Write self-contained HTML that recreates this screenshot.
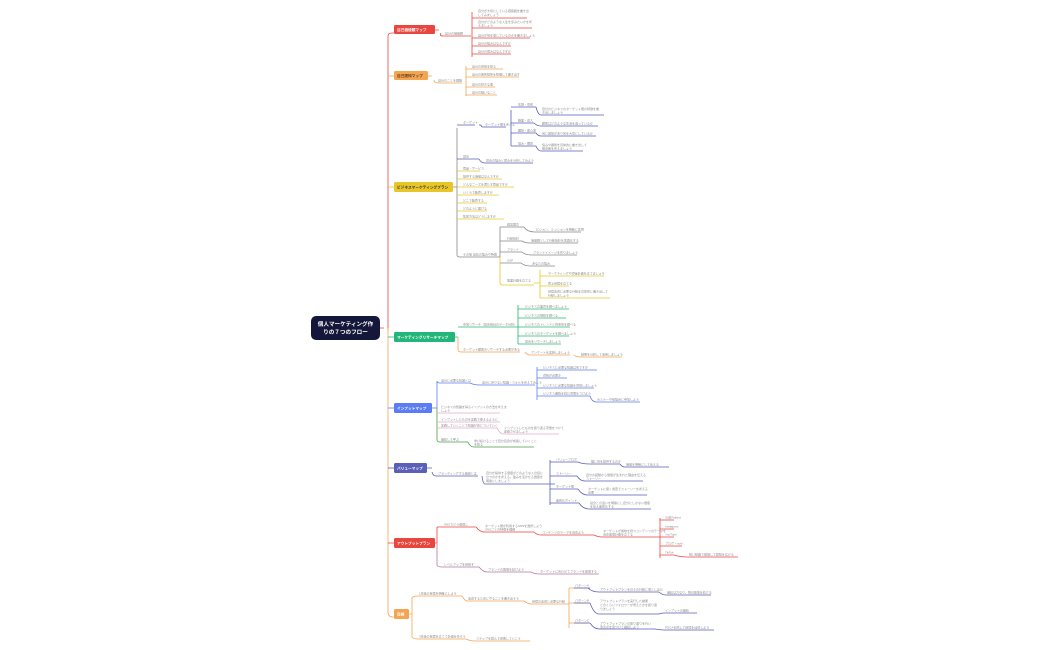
<!DOCTYPE html>
<html><head><meta charset="utf-8"><style>
html,body{margin:0;padding:0;background:#fff;width:1050px;height:650px;overflow:hidden}
svg{display:block}
text{font-family:"Liberation Sans","Noto Sans CJK JP",sans-serif;font-size:3px;fill:#8a8a8a}
.b{font-size:3.7px;font-weight:bold;fill:#fff}
</style></head><body>
<svg width="1050" height="650" viewBox="0 0 1050 650" fill="none" stroke-width="0.8">
<path d="M380 328 H384 M388 330 V36 Q388 33 392 33 H394" stroke="#e8463f"/>
<path d="M388 328 V612 Q388 617 393 617 H394" stroke="#f3a552"/>
<path d="M388 76 H394" stroke="#f3a552"/>
<path d="M388 187 H394" stroke="#e9c628"/>
<path d="M388 337 H394" stroke="#22b67a"/>
<path d="M388 408 H394" stroke="#5b7cf2"/>
<path d="M388 468 H394" stroke="#5a5fb8"/>
<path d="M388 543 H394" stroke="#e8463f"/>

<rect x="311" y="316" width="69" height="24" rx="5" fill="#14173a"/>
<text x="345.5" y="326" text-anchor="middle" class="b" style="font-size:5.6px">個人マーケティング作</text>
<text x="345.5" y="334" text-anchor="middle" class="b" style="font-size:5.6px">りの７つのフロー</text>

<rect x="394" y="25" width="41" height="9" rx="1.5" fill="#e8463f"/><text x="397" y="31" class="b">自己価値観マップ</text>
<rect x="394" y="71" width="34" height="9" rx="1.5" fill="#f3a552"/><text x="397" y="77" class="b" style="fill:#5a3a10">自己認知マップ</text>
<rect x="394" y="182" width="59" height="10" rx="1.5" fill="#e9c628"/><text x="397" y="188.5" class="b" style="fill:#333">ビジネスマーケティングプラン</text>
<rect x="394" y="332" width="61" height="10" rx="1.5" fill="#22b67a"/><text x="397" y="338.5" class="b">マーケティングリサーチマップ</text>
<rect x="394" y="403" width="38" height="10" rx="1.5" fill="#5b7cf2"/><text x="397" y="409.5" class="b">インプットマップ</text>
<rect x="394" y="463" width="33" height="10" rx="1.5" fill="#5a5fb8"/><text x="397" y="469.5" class="b">バリューマップ</text>
<rect x="394" y="538" width="41" height="10" rx="1.5" fill="#e8463f"/><text x="397" y="544.5" class="b">アウトプットプラン</text>
<rect x="394" y="609" width="15" height="10" rx="1.5" fill="#f3a552"/><text x="397" y="615.5" class="b">目標</text>

<g stroke="#e8463f">
<path d="M435 30 H439 M441 33 Q439 36 443 36 H471 M472 12 V57 M472 18 H477 M472 28 H477 M472 38 H477 M472 46 H477 M472 54 H477"/>
<path d="M477 18 H527 M477 28 H532 M477 38 H530 M477 46 H511 M477 54 H511"/>
</g>
<text x="445" y="34.5">自分の価値観</text>
<text x="478" y="12">自分が大切にしている価値観を書き出</text><text x="478" y="16">してみましょう</text>
<text x="478" y="23">自分がどのような人生を歩みたいかを考</text><text x="478" y="26.5">えましょう</text>
<text x="478" y="36.5">自分が何を信じているのかを書きましょう</text>
<text x="478" y="44.5">自分の強みはなんですか</text>
<text x="478" y="52.5">自分の弱みはなんですか</text>

<g stroke="#f3a552">
<path d="M428 76 H432 M434 80 Q434 83 438 83 H462 M466 66 V96 M466 69 H471 M466 77 H471 M466 87 H471 M466 95 H471"/>
<path d="M471 69 H503 M471 77 H519 M471 87 H495 M471 95 H497"/>
</g>
<text x="438" y="81.5">自分のことを理解</text>
<text x="472" y="67.5">自分の性格を知る</text>
<text x="472" y="75.5">自分の長所短所を整理して書き出す</text>
<text x="472" y="85.5">自分の好きな事</text>
<text x="472" y="93.5">自分の嫌いなこと</text>

<path d="M453 187 H457 M457 128 V255 Q457 257 460 257 H462" stroke="#888"/>
<path d="M457 125 H475 M457 159 H479" stroke="#5a5fb8"/>
<g stroke="#5a5fb8">
<path d="M479 125 H481 Q481 127 483 127 H506 M511 110 V146 M511 107 H516 M511 123 H516 M511 133 H516 M511 146 H516"/>
<path d="M516 107 H536 M516 123 H534 M516 133 H536 M516 146 H536"/>
<path d="M536 107 Q538 115 541 115 H604 M534 123 Q537 126 541 126 H598 M536 133 Q538 136 541 136 H596 M536 146 Q538 151 541 151 H583"/>
<path d="M479 159 Q481 163 485 163 H533"/>
</g>
<text x="463" y="123.5">ターゲット</text>
<text x="485" y="125.5">ターゲット層を考える</text>
<text x="518" y="105.5">年齢・性別</text><text x="518" y="121.5">職業・収入</text><text x="518" y="131.5">趣味・関心事</text><text x="518" y="144.5">悩み・課題</text>
<text x="542" y="110">自分のビジネスのターゲット層の特徴を書</text><text x="542" y="113.5">き出しましょう</text>
<text x="542" y="124.5">顧客はどのような生活を送っているか</text>
<text x="542" y="134.5">何に興味があり何を大切にしているか</text>
<text x="542" y="146">悩みや課題を具体的に書き出して</text><text x="542" y="149.5">解決策を考えましょう</text>
<text x="463" y="157.5">競合</text>
<text x="486" y="161.5">競合の強みと弱みを分析してみよう</text>
<g stroke="#e9c628"><path d="M457 171 H480 M457 179 H502 M457 187 H514 M457 195 H499 M457 203 H487 M457 211 H487 M457 219 H504"/></g>
<text x="463" y="169.5">商品・サービス</text>
<text x="463" y="177.5">提供する価値はなんですか</text>
<text x="463" y="185.5">どんなニーズを満たす商品ですか</text>
<text x="463" y="193.5">いくらで販売しますか</text>
<text x="463" y="201.5">どこで販売する</text>
<text x="463" y="209.5">どのように届ける</text>
<text x="463" y="217.5">集客方法はどうしますか</text>
<g stroke="#888">
<path d="M462 257 H500 M500 227 V257 M500 227 H506 M500 241 H506 M500 252 H506 M500 263 H506"/>
<path d="M506 227 H524 M506 241 H522 M506 252 H522 M506 263 H521"/>
<path d="M524 227 Q527 232 535 232 H581 M522 241 Q525 243 530 243 H578 M522 252 Q525 255 532 255 H577 M521 263 Q524 266 531 266 H555"/>
</g>
<path d="M500 257 V283 Q500 285 503 285 H534 M540 270 V298 M534 283 H540 M540 276 H604 M540 286 H569 M540 298 H610" stroke="#e9c628"/>
<text x="463" y="255.5">その他 自社の強みや特徴</text>
<text x="507" y="225.5">経営理念</text><text x="507" y="239.5">行動指針</text><text x="507" y="250.5">ブランド</text><text x="507" y="261.5">USP</text><text x="507" y="281.5">事業計画を立てる</text>
<text x="536" y="230.5">ビジョン、ミッションを明確に表現</text>
<text x="531" y="241.5">価値観として行動指針を言語化する</text>
<text x="533" y="253.5">ブランドイメージを作りましょう</text>
<text x="532" y="264.5">あなたの強み</text>
<text x="548" y="274.5">マーケティングや資金計画を立てましょう</text>
<text x="548" y="284.5">売上目標を立てる</text>
<text x="548" y="292.5">目標達成に必要な行動を具体的に書き出して</text><text x="548" y="296.5">行動しましょう</text>

<g stroke="#22b67a">
<path d="M455 337 H458 M458 327 H515 M518 305 V344 M515 327 H524 M518 309 H524 M518 318 H524 M518 336 H524 M518 344 H524"/>
<path d="M524 309 H569 M524 318 H566 M524 327 H570 M524 336 H569 M524 344 H561"/>
</g>
<path d="M458 337 V350 Q458 352 462 352 H520 M525 352 Q527 355 530 355 H570 M574 355 Q576 357 580 357 H622" stroke="#f3a552"/>
<text x="463" y="325.5">市場リサーチ（競合他社のデータ分析）</text>
<text x="525" y="307.5">ビジネスの業界を調べましょう</text><text x="525" y="316.5">ビジネスの規模を調べる</text><text x="525" y="325.5">ビジネスのトレンドと将来性を調べる</text><text x="525" y="334.5">ビジネスのターゲットを調べましょう</text><text x="525" y="342.5">競合をリサーチしましょう</text>
<text x="463" y="350.5">ターゲット顧客のリサーチする必要がある</text>
<text x="531" y="353.5">アンケートを実施しましょう</text>
<text x="581" y="355.5">結果を分析して活用しましょう</text>

<path d="M432 408 H437 M437 381 V408 M437 381 Q437 383 440 383 H470" stroke="#5b7cf2"/>
<path d="M437 408 V440 Q437 442 440 442 H468" stroke="#4a9e4a"/>
<g stroke="#5b7cf2">
<path d="M470 383 Q474 385 480 385 H535 M537 367 V400 M537 370 H597 M537 378 H567 M537 388 H594 M537 396 H590 M590 396 Q592 402 596 402 H640"/>
</g>
<path d="M437 413 H500 M437 422 H500 M437 428 H497 M497 428 Q500 434 503 434 H559" stroke="#e9a6c8"/>
<path d="M468 442 Q470 447 474 447 H534" stroke="#4a9e4a"/>
<text x="441" y="381.5">自分に必要な知識とは</text>
<text x="482" y="383.5">自分に足りない知識・スキルを考えてみよう</text>
<text x="543" y="368.5">ビジネスに必要な知識は何ですか</text><text x="543" y="376.5">資格が必要か</text><text x="543" y="386.5">ビジネスに必要な知識を習得しましょう</text><text x="543" y="394.5">ビジネス書籍を読む習慣をつけよう</text>
<text x="597" y="400.5">セミナーや勉強会に参加しよう</text>
<text x="441" y="408">ビジネスの知識を得るインプットの方法を考えま</text><text x="441" y="411.5">しょう</text>
<text x="441" y="420.5">インプットしたものを実践で使えるように</text>
<text x="441" y="426.5">実践していくことで知識が身についていく</text>
<text x="504" y="429">インプットしたものを振り返る習慣をつけて</text><text x="504" y="432.5">定着させましょう</text>
<text x="441" y="440.5">継続して学ぶ</text>
<text x="474" y="442">学び続けることで自分自身が成長していくこと</text><text x="474" y="445.5">を知る</text>

<g stroke="#5a5fb8">
<path d="M427 468 H432 M432 472 Q433 476 436 476 H478 M482 476 Q483 484 485 484 H548 M550 460 V505 M548 484 H555 M550 462 H555 M550 476 H555 M550 489 H555 M550 503 H555"/>
<path d="M555 462 H578 M555 476 H577 M555 489 H578 M555 503 H579"/>
<path d="M578 462 Q582 464 590 464 H620 M620 464 Q622 467 625 467 H669 M577 476 Q580 481 585 481 H643 M578 489 Q582 495 587 495 H647 M579 503 Q583 509 589 509 H651"/>
</g>
<text x="438" y="474.5">ブランディングする価値とは</text>
<text x="486" y="474">自分が提供する価値がどのような人の役に</text><text x="486" y="478">立つのかを考える。強みを活かせる価値を</text><text x="486" y="482">明確にしましょう</text>
<text x="556" y="460.5">バリュープロポ</text><text x="556" y="474.5">ストーリー</text><text x="556" y="487.5">ターゲット層</text><text x="556" y="501.5">差別化ポイント</text>
<text x="591" y="462.5">誰に何を提供するのか</text>
<text x="626" y="465.5">価値を明確にして伝える</text>
<text x="586" y="476">自分の経験から価値が生まれた理由を伝える</text><text x="586" y="479.5">ストーリー</text>
<text x="588" y="490">ターゲットに響く言葉でストーリーを考える</text><text x="588" y="493.5">必要</text>
<text x="590" y="504">競合との違いを明確にし自分にしかない価値</text><text x="590" y="507.5">を伝え差別化する</text>

<path d="M435 543 H437 M437 527 V543 M437 527 Q438 527 443 527 H476 M476 527 Q480 532 484 532 H534 M534 532 Q537 535 541 535 H594 M594 535 Q598 537 602 537 H654 M660 518 V558 M654 537 H660 M660 520 H674 M660 529 H674 M660 537 H674 M660 546 H682 M660 555 H674 M674 555 Q680 557 688 557 H738" stroke="#e8463f"/>
<path d="M437 543 V565 Q437 567 443 567 H479 M479 567 Q483 572 487 572 H531 M531 572 Q535 574 539 574 H599" stroke="#b07aa8"/>
<text x="444" y="525.5">SNSでどう発信し</text>
<text x="485" y="527">ターゲット層が利用するSNSを選択しよう</text><text x="485" y="530.5">SNSごとの特徴を理解</text>
<text x="542" y="533.5">コンテンツのテーマを決めよう</text>
<text x="603" y="532">ターゲットが興味を持つコンテンツのテーマを</text><text x="603" y="535.5">決め発信計画を立てる</text>
<text x="665" y="518.5">X(旧Twitter)</text><text x="665" y="527.5">Instagram</text><text x="665" y="535.5">YouTube</text><text x="665" y="544.5">ブログ・note</text><text x="665" y="553.5">TikTok</text>
<text x="689" y="555.5">短い動画で発信して認知を広げる</text>
<text x="444" y="565.5">レベルアップを目指す</text>
<text x="488" y="570.5">ブランドの発信を続けよう</text>
<text x="540" y="572.5">ターゲットに合わせてブランドを発信する</text>

<path d="M409 614 H412 M412 598 V637 M412 598 Q413 596 418 596 H462 M462 596 Q465 601 467 601 H524 M524 601 Q528 604 531 604 H566 M569 588 V628 M566 604 H569 M569 588 H588 M569 603 H588 M569 623 H588 M412 637 Q413 639 418 639 H466 M466 639 Q470 641 475 641 H530" stroke="#f3a552"/>
<g stroke="#5a5fb8"><path d="M574 588 H590 M588 588 Q592 592 599 592 H659 M574 603 H590 M590 603 Q594 614 599 614 H659 M574 623 H590 M590 623 Q594 629 599 629 H655 M659 592 Q662 595 666 595 H711 M659 614 Q661 613 664 613 H697 M655 629 Q660 630 664 630 H714"/></g>
<text x="419" y="594.5">1年後の目標を明確にしよう</text>
<text x="468" y="599.5">達成するためにやることを書き出そう</text>
<text x="532" y="602.5">目標の達成に必要な行動</text>
<text x="575" y="586.5">パターンA</text><text x="575" y="601.5">パターンB</text><text x="575" y="621.5">パターンC</text>
<text x="600" y="590.5">アウトプットプランを日々の行動に落とし込む</text>
<text x="600" y="602">アウトプットプランを実行した結果</text><text x="600" y="606">どのくらいフォロワーが増えたかを振り返</text><text x="600" y="610">りましょう</text>
<text x="600" y="624.5">アウトプットプランの振り返りを行い</text><text x="600" y="628">改善点を見つけて継続しよう</text>
<text x="667" y="593.5">継続は力なり、毎日発信を続ける</text>
<text x="665" y="611.5">インプットの継続</text>
<text x="665" y="628.5">PDCAを回して目標を達成しよう</text>
<text x="419" y="637.5">3年後の目標を立てて計画を作ろう</text>
<text x="476" y="639.5">ステップを踏んで成長していこう</text>
</svg>
</body></html>
